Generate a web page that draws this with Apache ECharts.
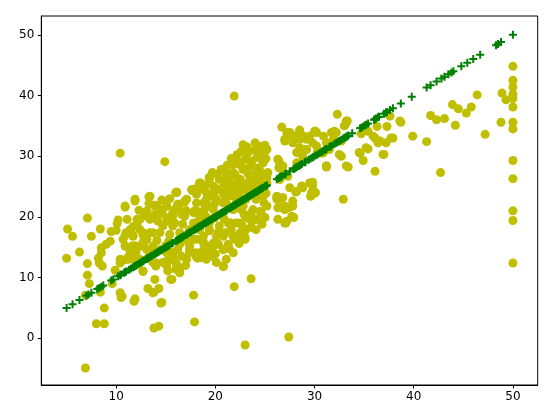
<!DOCTYPE html>
<html>
<head>
<meta charset="utf-8">
<script src="https://cdn.jsdelivr.net/npm/echarts@6/dist/echarts.min.js"></script>
<style>
    html, body { margin: 0; padding: 0; background: #fff; }
    #chart { width: 557px; height: 419px; }
</style>
</head>
<body>
<div id="chart"></div>
<script>
// tick labels
const xTicks = [10, 20, 30, 40, 50];
const yTicks = [0, 10, 20, 30, 40, 50];

// green "+" : true values plotted against themselves
const trueVals = [
    5.0, 5.6, 6.3, 7.0, 7.2, 7.5, 8.1, 8.3, 8.5, 8.7, 9.5, 9.7, 10.2, 10.4, 10.5, 10.8, 10.9, 11.0,
    11.3, 11.5, 11.7, 11.8, 11.9, 12.0, 12.1, 12.3, 12.5, 12.6, 12.7, 12.8, 13.0, 13.1, 13.2, 13.3,
    13.4, 13.5, 13.6, 13.8, 13.9, 14.0, 14.1, 14.2, 14.3, 14.4, 14.5, 14.6, 14.8, 14.9, 15.0, 15.1,
    15.2, 15.3, 15.4, 15.6, 15.7, 16.0, 16.1, 16.2, 16.3, 16.4, 16.5, 16.6, 16.7, 16.8, 17.0, 17.1,
    17.2, 17.3, 17.4, 17.5, 17.6, 17.8, 17.9, 18.0, 18.1, 18.2, 18.3, 18.4, 18.5, 18.6, 18.7, 18.8,
    18.9, 19.0, 19.1, 19.2, 19.3, 19.4, 19.5, 19.6, 19.7, 19.8, 19.9, 20.0, 20.1, 20.2, 20.3, 20.4,
    20.5, 20.6, 20.7, 20.8, 20.9, 21.0, 21.1, 21.2, 21.4, 21.5, 21.6, 21.7, 21.8, 21.9, 22.0, 22.1,
    22.2, 22.3, 22.4, 22.5, 22.6, 22.7, 22.8, 22.9, 23.0, 23.1, 23.2, 23.3, 23.4, 23.5, 23.6, 23.7,
    23.8, 23.9, 24.0, 24.1, 24.2, 24.3, 24.4, 24.5, 24.6, 24.7, 24.8, 25.0, 25.1, 25.2,
    26.2, 26.4, 26.5, 26.6, 26.7, 27.0, 27.1, 27.5, 27.9, 28.0, 28.1, 28.2, 28.4, 28.5, 28.6, 28.7,
    29.0, 29.1, 29.4, 29.6, 29.8, 29.9, 30.1, 30.3, 30.5, 30.7, 30.8, 31.0, 31.1, 31.2, 31.5, 31.6,
    31.7, 32.0, 32.2, 32.4, 32.5, 32.7, 32.9, 33.0, 33.1, 33.2, 33.3, 33.4, 33.8, 34.6, 34.7, 34.9,
    35.1, 35.2, 35.4, 36.0, 36.1, 36.2, 36.4, 36.5, 37.0, 37.2, 37.3, 37.6, 37.9, 38.7, 39.8, 41.3,
    41.7, 42.3, 42.8, 43.1, 43.5, 43.8, 44.0, 44.8, 45.4, 46.0, 46.7, 48.3, 48.5, 48.8, 50.0
];

// yellow circles : [true value, predicted value]
const predOuter = [
    [6.9, -4.9], [23.0, -1.1], [27.4, 0.2], [13.8, 1.7], [14.3, 2.0], [8.0, 2.4], [8.8, 2.4], [17.9, 2.7],
    [8.8, 5.0], [14.5, 5.8], [11.8, 6.1], [11.9, 6.5], [10.5, 6.7], [10.4, 7.5], [6.9, 7.1], [17.8, 7.1],
    [13.2, 8.2], [13.8, 7.6], [14.3, 8.2], [21.9, 8.5], [23.6, 9.8], [13.9, 9.7], [7.3, 9.0], [8.4, 7.6],
    [9.6, 9.0], [7.1, 10.4], [15.5, 9.7], [12.7, 11.0], [20.8, 11.8], [16.4, 10.8], [16.0, 11.4],
    [15.1, 11.9], [15.2, 11.1], [14.0, 11.9], [7.1, 12.3], [8.3, 12.4], [8.6, 11.9], [8.2, 13.2],
    [5.0, 13.2], [10.4, 12.4], [10.8, 12.9], [11.3, 13.0], [11.9, 13.0], [13.3, 13.5], [14.0, 12.4],
    [18.2, 13.2], [19.7, 13.5], [15.1, 12.7], [15.5, 14.1], [8.5, 14.9], [8.5, 14.1], [9.4, 16.0],
    [10.9, 15.2], [11.9, 15.2], [12.8, 15.1], [5.1, 18.0], [5.6, 16.8], [6.3, 14.2], [7.5, 16.8],
    [7.1, 19.8], [8.4, 18.0], [9.5, 17.6], [10.1, 18.9], [10.2, 19.5], [10.4, 30.5], [10.9, 17.0],
    [11.7, 17.0], [10.9, 21.6], [11.9, 22.6], [11.7, 18.4], [13.3, 23.3], [12.7, 17.0], [12.9, 20.7],
    [13.9, 21.9], [14.9, 29.1], [16.0, 24.0], [16.9, 22.4], [17.7, 24.3], [18.5, 25.6], [19.4, 26.3],
    [20.6, 27.7], [21.9, 39.9], [22.0, 29.1], [23.0, 31.6], [24.6, 31.6], [12.7, 11.1], [13.7, 7.5],
    [14.6, 5.9], [15.6, 9.7], [10.6, 6.9]
];

const predRight = [
    [26.7, 34.8], [27.0, 32.5], [27.5, 33.6], [28.5, 34.3], [28.9, 33.3], [30.1, 34.1], [32.3, 36.9],
    [33.3, 35.8], [33.1, 35.2], [32.0, 34.1], [26.4, 29.2], [26.4, 28.1], [27.3, 26.7], [26.4, 22.9],
    [26.6, 21.5], [27.5, 21.6], [27.9, 19.9], [27.1, 19.0], [24.6, 19.7], [23.7, 19.3], [23.0, 16.3],
    [27.5, 24.8], [28.1, 24.1], [28.8, 24.8], [29.6, 23.4], [30.1, 24.0], [29.8, 25.7], [31.2, 28.2],
    [32.9, 22.9], [33.4, 28.2], [32.7, 30.0], [30.8, 30.5], [31.5, 31.6], [34.6, 30.5], [34.9, 29.3],
    [35.4, 31.2], [36.1, 27.5], [37.0, 30.3], [37.2, 32.2], [36.1, 33.0], [36.4, 32.2], [37.9, 33.0],
    [37.3, 34.9], [36.3, 34.9], [37.6, 36.6], [38.7, 35.6], [34.7, 33.7], [35.4, 34.1], [35.1, 34.4],
    [39.9, 33.3], [41.3, 32.4], [41.7, 36.7], [42.3, 36.0], [43.1, 36.2], [42.7, 27.3], [43.9, 38.5],
    [44.2, 35.1], [44.5, 37.8], [45.3, 37.1], [45.8, 38.1], [46.4, 40.1], [47.2, 33.6], [48.8, 35.6],
    [48.9, 40.4], [49.3, 39.3],
    [50, 44.8], [50, 42.5], [50, 41.4], [50, 40.2], [50, 39.5], [50, 38.1], [50, 35.6], [50, 34.5],
    [50, 29.3], [50, 26.3], [50, 21.0], [50, 19.4], [50, 12.4],
    [33.2, 35.8], [33.0, 35.0], [30.0, 34.1], [28.5, 34.1], [27.5, 33.9], [27.0, 32.8], [28.0, 33.3],
    [29.2, 32.8], [29.8, 32.2], [30.9, 33.3], [31.7, 33.9], [32.0, 32.2], [32.7, 32.5], [31.2, 31.1],
    [30.3, 30.8], [29.2, 31.1], [28.5, 31.4], [27.8, 32.2], [28.8, 30.0], [28.2, 28.9], [26.3, 29.5],
    [26.8, 28.4], [25.2, 31.1], [24.5, 30.0], [24.8, 28.9], [31.2, 28.4], [33.2, 28.4], [32.5, 30.3],
    [34.5, 30.6], [35.2, 31.4], [36.9, 30.3], [37.7, 33.0], [38.6, 35.8], [35.9, 33.3], [36.6, 32.5],
    [26.5, 26.2], [28.7, 25.1], [29.8, 25.1], [29.7, 24.0], [27.8, 22.6], [27.3, 21.5], [26.2, 22.9],
    [24.5, 24.5], [25.2, 25.6], [26.3, 21.5], [27.0, 21.2], [27.8, 21.8], [27.2, 19.3], [27.7, 20.1],
    [26.3, 19.6], [26.8, 27.5], [26.5, 26.2], [28.2, 30.6], [29.0, 31.1], [30.2, 31.7], [31.2, 32.2],
    [31.9, 32.8], [31.5, 31.1], [30.9, 30.6], [27.2, 33.9], [27.8, 33.3], [28.5, 32.8], [29.5, 33.3],
    [30.2, 33.9], [32.2, 33.9], [31.2, 28.4], [28.2, 24.2], [29.5, 25.6], [30.0, 23.9], [26.2, 23.4]
];

const predCore = [
    [22.8, 31.9], [24.0, 32.2], [25.0, 31.8], [23.3, 30.6], [24.3, 30.3], [22.0, 28.9], [20.6, 27.8],
    [19.4, 26.5], [18.4, 25.6], [17.8, 24.5], [18.8, 24.5], [19.8, 25.1], [20.8, 26.2], [21.8, 27.3],
    [22.8, 27.8], [23.8, 28.4], [24.8, 28.9], [25.3, 27.3], [25.0, 25.1], [24.5, 26.2], [23.5, 26.2],
    [22.5, 26.2], [21.5, 25.6], [20.8, 23.9], [21.8, 24.5], [22.8, 24.5], [23.8, 24.5], [24.8, 23.4],
    [24.1, 22.9], [23.1, 22.9], [22.1, 22.9], [21.1, 22.3], [20.1, 22.9], [19.1, 22.9], [18.1, 22.3],
    [17.8, 20.7], [18.8, 20.7], [19.8, 21.2], [20.8, 20.7], [21.8, 21.2], [22.8, 21.8], [23.8, 21.2],
    [24.6, 20.9], [25.2, 21.8], [24.3, 19.6], [23.5, 19.6], [22.5, 19.0], [21.5, 19.0], [20.4, 18.5],
    [19.4, 17.9], [18.4, 17.9], [17.8, 16.3], [18.8, 15.7], [19.8, 15.7], [20.8, 16.8], [21.8, 16.8],
    [22.8, 16.8], [23.1, 17.9], [24.1, 17.9], [20.8, 14.6], [19.4, 14.1], [18.1, 14.1], [21.8, 14.1],
    [20.6, 27.8], [21.5, 26.7], [20.4, 26.2], [19.4, 26.5], [17.6, 24.5], [18.1, 23.7], [16.1, 24.1],
    [17.1, 22.9], [16.2, 22.1], [15.7, 20.7], [14.7, 21.2], [13.9, 21.8], [13.4, 23.4], [11.9, 22.9],
    [10.9, 21.8], [11.1, 19.6], [12.1, 19.6], [13.1, 20.1], [14.1, 19.9], [15.1, 19.3], [15.9, 19.0],
    [16.9, 20.1], [17.9, 21.0], [18.9, 21.2], [19.9, 22.1], [21.0, 22.9], [22.0, 24.3], [22.3, 25.9],
    [21.8, 21.2], [21.5, 19.0], [19.4, 19.0], [18.4, 18.5], [17.4, 17.9], [16.4, 17.4], [15.4, 17.1],
    [14.4, 17.4], [13.4, 17.4], [12.4, 17.9], [11.4, 17.9], [10.9, 15.2], [11.9, 15.2], [12.7, 15.8],
    [13.7, 15.2], [14.7, 14.6], [16.2, 14.6], [17.4, 15.2], [18.8, 15.8], [19.8, 15.2], [20.8, 14.6],
    [22.0, 16.3], [21.1, 13.0], [20.1, 12.5], [19.1, 13.0], [18.1, 13.5], [17.1, 13.0], [16.1, 12.2],
    [14.7, 12.5], [13.7, 12.5], [12.4, 13.0], [16.2, 21.8], [16.4, 21.2], [15.1, 21.8], [14.1, 21.8],
    [13.9, 20.4], [13.1, 21.0], [12.4, 19.6], [12.1, 18.8], [12.7, 17.4], [13.4, 19.6], [14.2, 19.3],
    [15.1, 19.9], [15.7, 20.1], [16.6, 20.4], [17.1, 21.0], [18.1, 21.0], [18.4, 19.6], [17.8, 19.0],
    [16.7, 18.8], [15.7, 18.5], [14.7, 18.5], [13.7, 17.4], [13.1, 16.3], [12.4, 15.2], [11.7, 16.8],
    [11.0, 17.4], [10.7, 16.3], [11.6, 15.2], [11.2, 13.3], [10.4, 13.0], [13.1, 14.6], [14.4, 14.6],
    [15.1, 14.1], [15.7, 13.5], [17.4, 14.6], [18.1, 13.5], [18.9, 14.1], [18.8, 22.3], [19.1, 24.0],
    [16.1, 24.0], [17.8, 24.3], [16.9, 22.6], [15.9, 21.2], [16.8, 20.4], [17.9, 20.7], [19.1, 21.8],
    [19.8, 23.4], [20.8, 22.3], [21.8, 23.4], [22.6, 21.2], [23.1, 19.9], [22.1, 19.0], [21.3, 19.0],
    [19.4, 17.7], [18.8, 16.8], [18.1, 16.3], [17.4, 15.7], [16.4, 15.5], [15.7, 14.1], [16.6, 13.5],
    [17.4, 14.1], [18.3, 13.5], [18.8, 14.6], [19.4, 15.2], [20.3, 15.5], [20.1, 16.8], [21.0, 17.4],
    [21.8, 16.8], [22.5, 17.4], [23.0, 16.6], [24.0, 19.6], [24.5, 20.9], [25.0, 19.9], [26.2, 23.2],
    [27.0, 21.8], [27.0, 19.0], [26.8, 23.2], [15.9, 12.7], [16.4, 11.4], [15.6, 9.7], [19.6, 13.8],
    [18.6, 13.3], [18.1, 13.4], [19.6, 13.7], [20.8, 11.9], [23.3, 28.0], [24.0, 27.0], [23.0, 29.5],
    [22.2, 30.3], [24.2, 29.8], [23.5, 25.0], [22.0, 27.0]
];

// extra marks filling the dense blob around 20-25
const predBlob = [
    [21.2, 28.5], [21.6, 29.6], [22.4, 29.0], [22.6, 30.8], [23.2, 31.5], [23.6, 29.2], [24.0, 31.0],
    [24.4, 28.0], [24.9, 30.5], [25.1, 29.6], [25.2, 26.5], [24.7, 27.2], [23.9, 26.0], [23.3, 27.1],
    [22.6, 28.4], [21.8, 28.6], [21.2, 27.2], [20.9, 25.5], [21.3, 24.4], [22.2, 25.4], [23.0, 25.4],
    [23.9, 25.2], [24.6, 25.5], [24.3, 24.0], [23.4, 23.6], [22.4, 23.6], [21.4, 23.5], [20.4, 24.6],
    [19.9, 24.2], [19.0, 25.2], [18.2, 24.8], [20.2, 27.0], [19.7, 27.3], [22.9, 20.4], [23.6, 20.6],
    [24.9, 22.3], [25.1, 23.9], [20.9, 19.6], [19.9, 19.8], [19.1, 20.0], [20.3, 17.5], [21.6, 17.9],
    [23.6, 18.3], [24.7, 18.8], [22.4, 15.6], [21.3, 15.5], [12.3, 21.1], [13.3, 22.2], [14.6, 22.8],
    [15.4, 23.0], [14.5, 20.6], [15.3, 16.0], [14.1, 16.1], [13.5, 14.0], [12.0, 14.2], [11.4, 14.2],
    [12.2, 12.2], [9.9, 11.2], [10.0, 17.8], [9.0, 15.5], [20.0, 13.9], [21.4, 14.8], [22.7, 18.6],
    [16.9, 16.2], [17.0, 12.0], [15.0, 15.3]
];

const predicted = predOuter.concat(predRight, predCore, predBlob);
const diagonal = trueVals.map(function (v) { return [v, v]; });

const chart = echarts.init(document.getElementById('chart'), null, { renderer: 'canvas' });

const axisText = {
    color: '#000',
    fontSize: 12,
    fontFamily: 'DejaVu Sans'
};

chart.setOption({
    animation: false,
    backgroundColor: '#fff',
    grid: {
        left: 41.3,
        right: 19.3,
        top: 16,
        bottom: 34,
        show: true,
        borderColor: '#000',
        borderWidth: 1
    },
    xAxis: {
        type: 'value',
        min: 2.45,
        max: 52.5,
        splitLine: { show: false },
        axisLine: { show: true, onZero: false, lineStyle: { color: '#000', width: 1 } },
        axisTick: { show: true, inside: false, length: 3.5, customValues: xTicks, lineStyle: { color: '#000' } },
        axisLabel: Object.assign({ margin: 6, customValues: xTicks }, axisText)
    },
    yAxis: {
        type: 'value',
        min: -7.7,
        max: 53.1,
        splitLine: { show: false },
        axisLine: { show: true, onZero: false, lineStyle: { color: '#000', width: 1 } },
        axisTick: { show: true, inside: false, length: 3.5, customValues: yTicks, lineStyle: { color: '#000' } },
        axisLabel: Object.assign({ margin: 7, customValues: yTicks }, axisText)
    },
    series: [
        {
            type: 'scatter',
            data: predicted,
            symbol: 'circle',
            symbolSize: 9,
            itemStyle: { color: '#bfbf00', opacity: 1 },
            z: 2
        },
        {
            type: 'scatter',
            data: diagonal,
            symbol: 'path://M3,0H5V3H8V5H5V8H3V5H0V3H3Z',
            symbolSize: 8,
            itemStyle: { color: '#008000', opacity: 1 },
            z: 3
        }
    ]
});
</script>
</body>
</html>
